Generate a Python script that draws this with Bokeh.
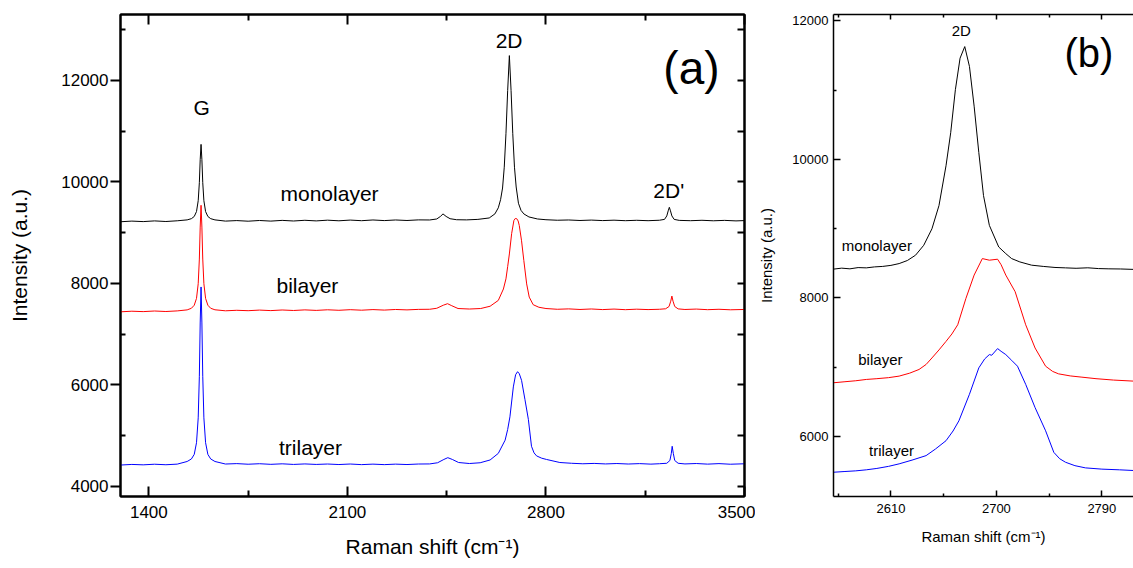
from bokeh.plotting import figure
from bokeh.models import FixedTicker, LinearAxis, Label, Range1d
from bokeh.layouts import row
from bokeh.embed import file_html
from bokeh.resources import INLINE

FONT = "Liberation Sans"

# ---------------- data: panel (a) ----------------
mono_a = [(1300,9215),(1340,9228),(1380,9218),(1420,9232),(1460,9220),(1500,9234),(1535,9252),(1550,9276),
          (1560,9319),(1568,9416),(1574,9630),(1578,9985),(1581,10438),(1584,10740),(1587,10438),(1590,9985),
          (1594,9630),(1600,9416),(1608,9319),(1618,9276),(1633,9252),(1670,9228),(1710,9238),(1750,9226),
          (1790,9240),(1830,9228),(1870,9242),(1910,9230),(1950,9244),(1990,9232),(2030,9246),(2070,9234),
          (2110,9248),(2150,9236),(2190,9250),(2230,9238),(2270,9250),(2310,9240),(2350,9252),(2390,9250),
          (2415,9270),(2428,9320),(2437,9370),(2448,9320),(2462,9275),(2485,9255),(2520,9252),(2560,9262),
          (2600,9290),(2620,9370),(2632,9490),(2640,9650),(2647,9880),(2653,10290),(2659,10950),(2665,11800),
          (2671,12490),(2677,11800),(2683,10950),(2689,10290),(2695,9900),(2703,9580),(2712,9440),(2722,9370),
          (2740,9310),(2770,9270),(2800,9255),(2840,9245),(2880,9250),(2920,9240),(2960,9248),(3000,9238),
          (3040,9246),(3080,9236),(3120,9244),(3160,9236),(3200,9245),(3218,9262),(3226,9330),(3231,9430),
          (3235,9500),(3239,9430),(3244,9330),(3252,9262),(3270,9242),(3310,9236),(3350,9244),(3390,9234),
          (3430,9242),(3470,9232),(3500,9238)]

bi_a = [(1300,7440),(1340,7452),(1380,7444),(1420,7456),(1460,7446),(1500,7458),(1535,7478),(1550,7510),
        (1560,7570),(1568,7705),(1574,7995),(1578,8480),(1581,9110),(1584,9540),(1587,9110),(1590,8480),
        (1594,7995),(1600,7705),(1608,7570),(1618,7510),(1633,7480),(1670,7460),(1710,7470),(1750,7462),
        (1790,7474),(1830,7464),(1870,7476),(1910,7466),(1950,7478),(1990,7468),(2030,7480),(2070,7470),
        (2110,7482),(2150,7472),(2190,7484),(2230,7474),(2270,7486),(2310,7478),(2350,7488),(2390,7490),
        (2415,7510),(2438,7570),(2453,7600),(2468,7560),(2490,7505),(2530,7495),(2570,7505),(2603,7550),
        (2632,7665),(2650,7890),(2659,8090),(2665,8330),(2671,8580),(2679,8980),(2687,9240),(2692,9280),
        (2697,9275),(2702,9230),(2706,9140),(2714,8840),(2722,8450),(2732,7990),(2741,7730),(2755,7580),
        (2775,7530),(2800,7505),(2840,7490),(2880,7498),(2920,7486),(2960,7496),(3000,7484),(3040,7494),
        (3080,7482),(3120,7492),(3160,7484),(3200,7490),(3222,7500),(3234,7545),(3240,7650),(3244,7750),
        (3248,7650),(3254,7545),(3266,7498),(3290,7486),(3330,7494),(3370,7482),(3410,7490),(3450,7480),
        (3500,7486)]

tri_a = [(1300,4420),(1340,4432),(1380,4424),(1420,4436),(1460,4426),(1500,4438),(1535,4490),(1550,4540),
         (1560,4630),(1568,4860),(1574,5350),(1578,6170),(1581,7220),(1584,7930),(1587,7220),(1590,6170),
         (1594,5350),(1600,4860),(1608,4630),(1618,4540),(1633,4490),(1670,4440),(1710,4448),(1750,4436),
         (1790,4446),(1830,4434),(1870,4444),(1910,4432),(1950,4442),(1990,4432),(2030,4440),(2070,4430),
         (2110,4440),(2150,4428),(2190,4438),(2230,4428),(2270,4438),(2310,4430),(2350,4440),(2390,4442),
         (2418,4465),(2440,4530),(2454,4565),(2470,4530),(2492,4470),(2530,4450),(2568,4465),(2603,4520),
         (2632,4650),(2656,4910),(2665,5120),(2673,5370),(2685,5960),(2693,6200),(2700,6260),(2706,6220),
         (2714,6090),(2726,5710),(2738,5320),(2749,4790),(2758,4660),(2767,4600),(2785,4555),(2802,4530),
         (2849,4470),(2890,4455),(2930,4445),(2970,4452),(3010,4442),(3050,4450),(3090,4440),(3130,4448),
         (3170,4438),(3200,4446),(3226,4455),(3237,4510),(3242,4650),(3245,4790),(3249,4650),(3254,4510),
         (3266,4455),(3290,4442),(3330,4450),(3370,4438),(3410,4448),(3450,4436),(3500,4445)]

# ---------------- data: panel (b) ----------------
mono_b = [(2561,8416),(2568,8430),(2575,8420),(2582,8438),(2589,8434),(2596,8448),(2603,8455),(2610,8470),
          (2617,8496),(2624,8540),(2631,8617),(2638,8760),(2645,8998),(2651,9333),(2657,9907),(2661,10384),
          (2665,11005),(2669,11460),(2673,11627),(2677,11341),(2681,10767),(2685,10097),(2689,9477),(2694,9047),
          (2702,8735),(2708,8640),(2713,8568),(2720,8520),(2730,8473),(2740,8455),(2750,8440),(2759,8434),
          (2768,8428),(2778,8435),(2787,8424),(2796,8420),(2806,8418),(2817,8412)]

bi_b = [(2561,6776),(2570,6790),(2580,6805),(2589,6824),(2598,6835),(2608,6850),(2617,6872),(2626,6915),
        (2634,6968),(2640,7040),(2645,7134),(2651,7250),(2657,7373),(2662,7480),(2667,7613),(2674,7994),
        (2681,8330),(2688,8568),(2694,8545),(2701,8559),(2704,8480),(2708,8330),(2716,8090),(2725,7613),
        (2733,7278),(2742,7015),(2748,6940),(2753,6905),(2763,6875),(2773,6857),(2785,6835),(2800,6815),
        (2817,6800)]

tri_b = [(2561,5485),(2570,5495),(2580,5505),(2589,5520),(2598,5540),(2608,5570),(2617,5606),(2628,5660),
         (2640,5725),(2648,5820),(2657,5940),(2663,6080),(2668,6227),(2677,6610),(2685,6991),(2690,7120),
         (2694,7183),(2696,7173),(2701,7269),(2704,7230),(2708,7183),(2713,7100),(2718,7015),(2725,6753),
         (2733,6418),(2742,6083),(2749,5772),(2754,5680),(2759,5629),(2767,5580),(2776,5548),(2790,5530),
         (2805,5520),(2817,5510)]

series_names = ["monolayer", "bilayer", "trilayer"]
series_colors = ["black", "red", "blue"]

a_xticks = [1400, 2100, 2800, 3500]
a_xminor = [1750, 2450, 3150]
a_yticks = [4000, 6000, 8000, 10000, 12000]
a_yminor = [5000, 7000, 9000, 11000, 13000]
b_xticks = [2610, 2700, 2790]
b_xminor = [2565, 2655, 2745]
b_yticks = [6000, 8000, 10000, 12000]
b_yminor = [7000, 9000, 11000]


def xy(pairs):
    return [p[0] for p in pairs], [p[1] for p in pairs]


def style(ax, size, t_in, t_out, m_in, m_out, lw, standoff):
    ax.major_tick_in = t_in
    ax.major_tick_out = t_out
    ax.minor_tick_in = m_in
    ax.minor_tick_out = m_out
    ax.axis_line_width = lw
    ax.major_tick_line_width = lw
    ax.minor_tick_line_width = lw
    ax.major_label_text_font = FONT
    ax.major_label_text_font_size = size
    ax.major_label_text_color = "black"
    ax.major_label_standoff = standoff
    ax.axis_label_text_font = FONT
    ax.axis_label_text_font_style = "normal"
    ax.axis_label_text_color = "black"


# ---------------- panel (a) ----------------
p1 = figure(width=755, height=568, x_range=Range1d(1300, 3500), y_range=Range1d(3800, 13300),
            output_backend="svg", toolbar_location=None,
            min_border_left=120, min_border_right=11, min_border_top=14, min_border_bottom=71)
p1.grid.visible = False
p1.outline_line_color = "black"
p1.outline_line_width = 2

for pairs, c in zip([mono_a, bi_a, tri_a], series_colors):
    x, y = xy(pairs)
    p1.line(x, y, line_color=c, line_width=1)

xa = p1.xaxis[0]
xa.ticker = FixedTicker(ticks=a_xticks, minor_ticks=a_xminor)
style(xa, "17px", 10, 0, 6, 0, 2, 9)
xa.axis_label = "Raman shift (cm\u207b\u00b9)"
xa.axis_label_text_font_size = "21px"
xa.axis_label_standoff = 14

ya = p1.yaxis[0]
ya.ticker = FixedTicker(ticks=a_yticks, minor_ticks=a_yminor)
style(ya, "17px", 0, 10, 5, 0, 2, 2)
ya.axis_label = "Intensity (a.u.)"
ya.axis_label_text_font_size = "21px"
ya.axis_label_standoff = 27

top_a = LinearAxis(ticker=FixedTicker(ticks=a_xticks, minor_ticks=a_xminor))
style(top_a, "0px", 10, 0, 6, 0, 2, 0)
top_a.major_label_text_color = None
p1.add_layout(top_a, "above")

right_a = LinearAxis(ticker=FixedTicker(ticks=a_yticks, minor_ticks=a_yminor))
style(right_a, "0px", 7, 0, 7, 0, 2, 0)
right_a.major_label_text_color = None
p1.add_layout(right_a, "right")

def lab(p, x, y, t, size):
    p.add_layout(Label(x=x, y=y, text=t, text_align="center", text_baseline="middle",
                       text_font=FONT, text_font_size=size, text_color="black"))

lab(p1, 1586, 11468, "G", "21px")
lab(p1, 2670, 12787, "2D", "21px")
lab(p1, 3233, 9835, "2D'", "21px")
lab(p1, 3313, 12236, "(a)", "46px")
lab(p1, 2037, 9776, series_names[0], "21px")
lab(p1, 1959, 7965, series_names[1], "21px")
lab(p1, 1970, 4756, series_names[2], "21px")

# ---------------- panel (b) ----------------
p2 = figure(width=378, height=568, x_range=Range1d(2561, 2817), y_range=Range1d(5135, 12090),
            output_backend="svg", toolbar_location=None,
            min_border_left=76, min_border_right=0, min_border_top=11, min_border_bottom=72)
p2.grid.visible = False
p2.outline_line_color = None

for pairs, c in zip([mono_b, bi_b, tri_b], series_colors):
    x, y = xy(pairs)
    p2.line(x, y, line_color=c, line_width=1)

xb = p2.xaxis[0]
xb.ticker = FixedTicker(ticks=b_xticks, minor_ticks=b_xminor)
style(xb, "13px", 6, 0, 3, 0, 1.5, 7)
xb.axis_label = "Raman shift (cm\u207b\u00b9)"
xb.axis_label_text_font_size = "15px"
xb.axis_label_standoff = 12

yb = p2.yaxis[0]
yb.ticker = FixedTicker(ticks=b_yticks, minor_ticks=b_yminor)
style(yb, "13px", 7, 0, 3, 0, 1.5, 5)
yb.axis_label = "Intensity (a.u.)"
yb.axis_label_text_font_size = "15px"
yb.axis_label_standoff = 14

top_b = LinearAxis(ticker=FixedTicker(ticks=b_xticks, minor_ticks=b_xminor))
style(top_b, "0px", 5, 0, 3, 0, 1.5, 0)
top_b.major_label_text_color = None
p2.add_layout(top_b, "above")

lab(p2, 2670, 11861, "2D", "15px")
lab(p2, 2779, 11531, "(b)", "40px")
lab(p2, 2598, 8764, series_names[0], "15px")
lab(p2, 2601, 7115, series_names[1], "15px")
lab(p2, 2610.5, 5796, series_names[2], "15px")

layout = row(p1, p2)
open("out.html", "w").write(file_html(layout, INLINE))
